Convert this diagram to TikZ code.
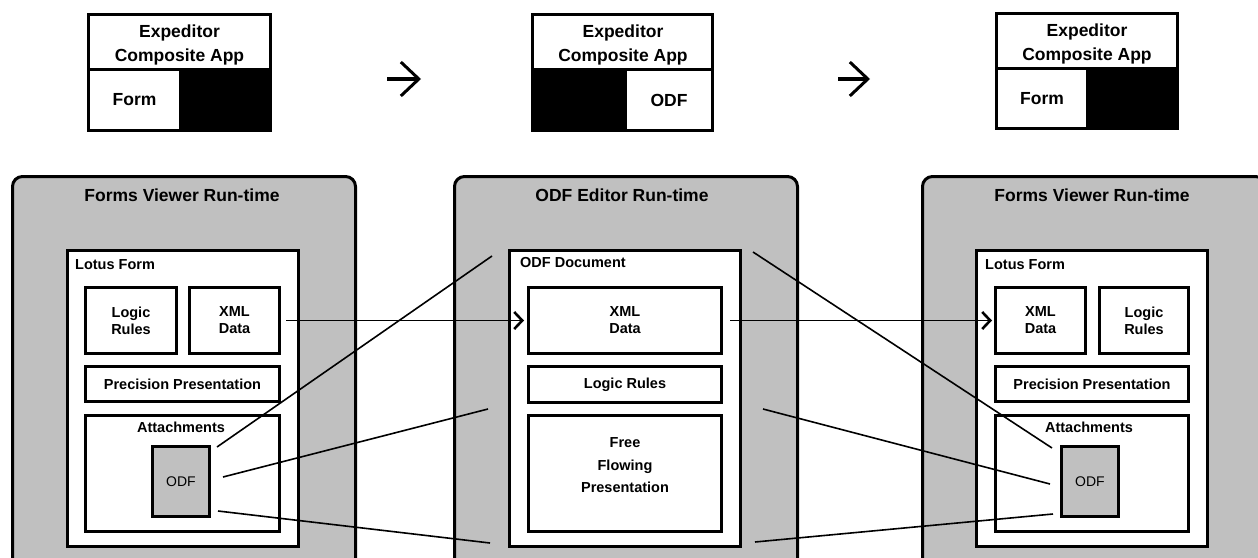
\documentclass[tikz,border=0pt]{standalone}
\usepackage{fontspec}
\setmainfont{Liberation Sans}
\usetikzlibrary{arrows.meta,calc}
\definecolor{pgray}{HTML}{C0C0C0}
\begin{document}
\begin{tikzpicture}[x=1pt,y=-1pt,
  panel/.style={draw, line width=3pt, fill=pgray, rounded corners=10pt, anchor=north west, inner sep=0pt},
  box/.style={draw, line width=3pt, fill=white, anchor=north west, inner sep=0pt},
  blk/.style={fill=black, draw=none, anchor=north west, inner sep=0pt, outer sep=0pt},
  gbox/.style={box, fill=pgray},
  big/.style={font=\bfseries\fontsize{17.5}{21}\selectfont, inner sep=0pt},
  lbl/.style={font=\bfseries\fontsize{14.5}{17}\selectfont},
  fftext/.style={font=\bfseries\fontsize{14.5}{22.5}\selectfont, align=center, anchor=north, inner sep=0pt},
  odft/.style={font=\fontsize{14}{17}\selectfont},
  conn/.style={line width=1.6pt},
  arr/.style={conn, -{Straight Barb[length=8pt,width=17pt,line width=2.6pt]}},
  bigarr/.style={line width=3.5pt, -{Straight Barb[length=18pt,width=34pt,line width=3pt]}},
]
\useasboundingbox (0,0) rectangle (1258,557);
\fill[white] (0,0) rectangle (1258,557);
\clip (0,0) rectangle (1258,557);

% ---------- top composite app boxes ----------
\node[box, minimum width=182pt, minimum height=116pt] (app1) at (87,13) {};
\node[blk, minimum width=185pt, minimum height=64pt] (app1k) at (87,68) {};
\node[box, big, minimum width=92pt, minimum height=61pt] (app1f) at (87,68) {Form};
\node[big, anchor=base] (app1t1) at (179.5,37) {Expeditor};
\node[big, anchor=base] (app1t2) at (179.5,61.5) {Composite App};

\node[box, minimum width=180pt, minimum height=116pt] (app2) at (531,13) {};
\node[blk, minimum width=183pt, minimum height=64pt] (app2k) at (531,68) {};
\node[box, big, minimum width=87pt, minimum height=61pt] (app2f) at (624,68) {ODF};
\node[big, anchor=base] (app2t1) at (623,37) {Expeditor};
\node[big, anchor=base] (app2t2) at (623,61.5) {Composite App};

\node[box, minimum width=181pt, minimum height=115pt] (app3) at (995,12) {};
\node[blk, minimum width=184pt, minimum height=63pt] (app3k) at (995,67) {};
\node[box, big, minimum width=91pt, minimum height=60pt] (app3f) at (995,67) {Form};
\node[big, anchor=base] (app3t1) at (1087,36) {Expeditor};
\node[big, anchor=base] (app3t2) at (1087,60.5) {Composite App};

\coordinate (ta1s) at (387,79);
\coordinate (ta1e) at (421,79);
\coordinate (ta2s) at (838,79);
\coordinate (ta2e) at (870,79);
\draw[bigarr] (ta1s) -- (ta1e);
\draw[bigarr] (ta2s) -- (ta2e);

% ---------- panel 1 ----------
\node[panel, minimum width=343pt, minimum height=420pt] (p1) at (11,175) {};
\node[big, anchor=base] (p1t) at (182,201.5) {Forms Viewer Run-time};
\node[box, minimum width=231pt, minimum height=296pt] (lf1) at (66,249) {};
\node[lbl, anchor=base west, inner sep=0pt] (lf1t) at (75,269) {Lotus Form};
\node[box, lbl, align=center, minimum width=91pt, minimum height=66pt] (lr1) at (84,286) {Logic\\Rules};
\node[box, lbl, align=center, minimum width=90pt, minimum height=66pt] (xml1) at (188,286) {XML\\Data};
\node[box, lbl, minimum width=194pt, minimum height=35pt] (pp1) at (84,365) {Precision Presentation};
\node[box, minimum width=194pt, minimum height=116pt] (at1) at (84,414) {};
\node[lbl, anchor=base, inner sep=0pt] (at1t) at (181,432) {Attachments};
\node[gbox, odft, minimum width=57pt, minimum height=70pt] (odf1) at (151,445) {ODF};

% ---------- panel 2 ----------
\node[panel, minimum width=343pt, minimum height=420pt] (p2) at (453,175) {};
\node[big, anchor=base] (p2t) at (622,201.5) {ODF Editor Run-time};
\node[box, minimum width=231pt, minimum height=296pt] (doc2) at (508,249) {};
\node[lbl, anchor=base west, inner sep=0pt] (doc2t) at (520,267.5) {ODF Document};
\node[box, lbl, align=center, minimum width=193pt, minimum height=66pt] (xml2) at (527,286) {XML\\Data};
\node[box, lbl, minimum width=193pt, minimum height=36pt] (lr2) at (527,365) {Logic Rules};
\node[box, minimum width=193pt, minimum height=116pt] (ff2) at (527,414) {};
\node[fftext] (ff2t) at (625,437.5) {Free\\Flowing\\Presentation};

% ---------- panel 3 ----------
\node[panel, minimum width=343pt, minimum height=420pt] (p3) at (921,175) {};
\node[big, anchor=base] (p3t) at (1092,201.5) {Forms Viewer Run-time};
\node[box, minimum width=231pt, minimum height=296pt] (lf3) at (975,249) {};
\node[lbl, anchor=base west, inner sep=0pt] (lf3t) at (985,269) {Lotus Form};
\node[box, lbl, align=center, minimum width=90pt, minimum height=66pt] (xml3) at (994,286) {XML\\Data};
\node[box, lbl, align=center, minimum width=89pt, minimum height=66pt] (lr3) at (1098,286) {Logic\\Rules};
\node[box, lbl, minimum width=193pt, minimum height=35pt] (pp3) at (994,365) {Precision Presentation};
\node[box, minimum width=193pt, minimum height=116pt] (at3) at (994,414) {};
\node[lbl, anchor=base, inner sep=0pt] (at3t) at (1089,432) {Attachments};
\node[gbox, odft, minimum width=57pt, minimum height=70pt] (odf3) at (1060,445) {ODF};

% ---------- connectors ----------
\draw[arr, shorten <=5pt, shorten >=3pt] (xml1) -- (xml2);
\draw[arr, shorten <=7pt, shorten >=2pt] (xml2) -- (xml3);

\coordinate (l1a) at (217,447);
\coordinate (l1b) at (492,256);
\coordinate (l2a) at (223,477);
\coordinate (l2b) at (488,409);
\coordinate (l3a) at (218,511);
\coordinate (l3b) at (490,543);
\coordinate (r1a) at (753,252);
\coordinate (r1b) at (1052,448);
\coordinate (r2a) at (763,409);
\coordinate (r2b) at (1050,484);
\coordinate (r3a) at (755,542);
\coordinate (r3b) at (1053,514);
\draw[conn] (l1a) -- (l1b);
\draw[conn] (l2a) -- (l2b);
\draw[conn] (l3a) -- (l3b);
\draw[conn] (r1a) -- (r1b);
\draw[conn] (r2a) -- (r2b);
\draw[conn] (r3a) -- (r3b);
\end{tikzpicture}
\end{document}
